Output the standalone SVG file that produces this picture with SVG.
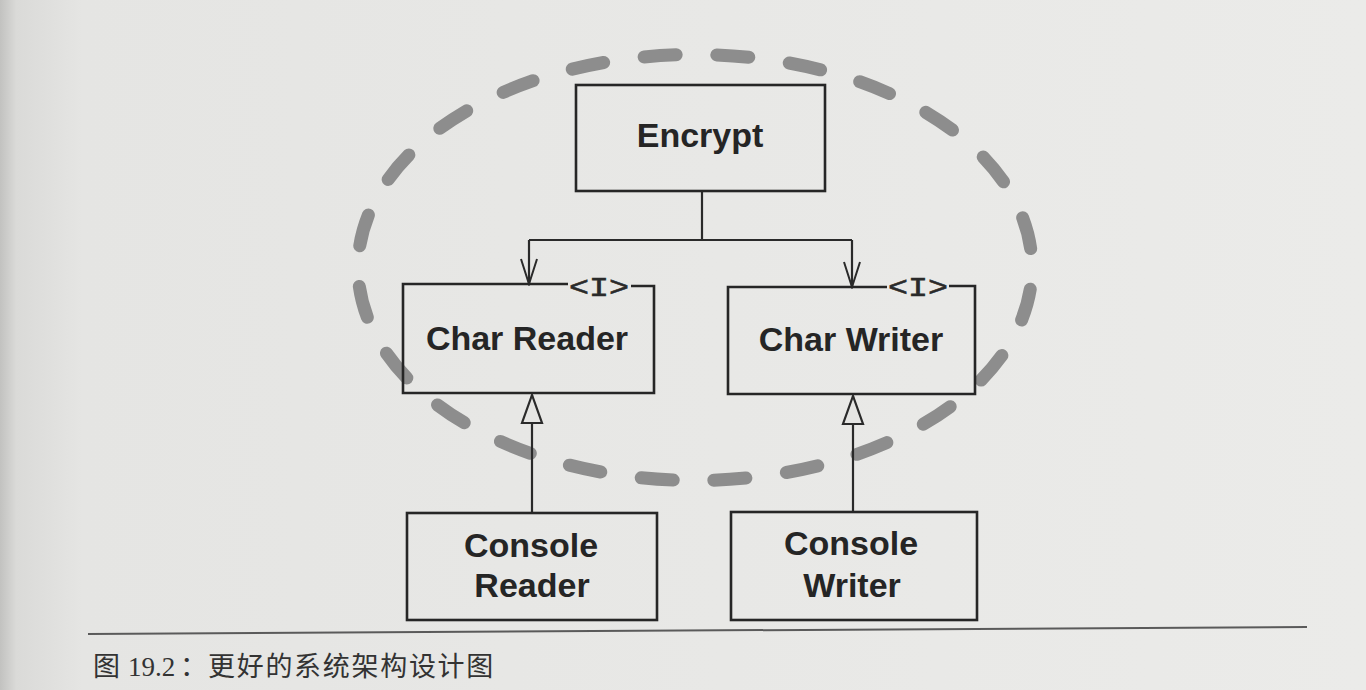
<svg xmlns="http://www.w3.org/2000/svg" width="1366" height="690" viewBox="0 0 1366 690">
  <defs>
    <linearGradient id="page" x1="0" y1="0" x2="1" y2="0">
      <stop offset="0" stop-color="#c2c2c0"/>
      <stop offset="0.012" stop-color="#dadad8"/>
      <stop offset="0.06" stop-color="#e5e5e3"/>
      <stop offset="1" stop-color="#ebebe9"/>
    </linearGradient>
    <marker id="open" viewBox="-27 -10 29 20" refX="0" refY="0" markerWidth="29" markerHeight="20" markerUnits="userSpaceOnUse" orient="auto">
      <path d="M-25,-8 L0,0 L-25,8" fill="none" stroke="#2a2a2a" stroke-width="2"/>
    </marker>
    <marker id="tri" viewBox="-32 -12 34 24" refX="0" refY="0" markerWidth="34" markerHeight="24" markerUnits="userSpaceOnUse" orient="auto">
      <path d="M0,0 L-28,-10 L-28,10 Z" fill="#e5e5e3" stroke="#2a2a2a" stroke-width="2.2" stroke-linejoin="miter"/>
    </marker>
    <style>
      .box { fill: none; stroke: #262626; stroke-width: 2.6; stroke-linejoin: miter; }
      .lbl { font-family: "Liberation Sans", Arial, sans-serif; font-weight: bold; font-size: 34px; fill: #252525; text-anchor: middle; }
      .iface { font-family: "Liberation Mono", "Courier New", monospace; font-size: 28px; fill: #2a2a2a; stroke: #2a2a2a; stroke-width: 0.6; text-anchor: middle; }
      .conn { fill: none; stroke: #2a2a2a; stroke-width: 2.2; }
      .boundary { fill: none; stroke: #8d8d8d; stroke-width: 13; stroke-linecap: round; stroke-dasharray: 44 56; stroke-dashoffset: 70; }
      .caption { font-family: "Liberation Serif", "Noto Sans CJK SC", serif; font-size: 27px; fill: #333333; }
    </style>
  </defs>

  <rect x="0" y="0" width="1366" height="690" fill="url(#page)"/>

  <g id="boundary">
    <path class="boundary" pathLength="2400" d="M1032,267.5 A337,213 0 1,1 358,267.5 A337,213 0 1,1 1032,267.5 Z"/>
  </g>

  <g id="connectors">
    <path class="conn" d="M702,191 V240"/>
    <path class="conn" d="M529,240 H852"/>
    <path class="conn" d="M529,240 V284" marker-end="url(#open)"/>
    <path class="conn" d="M852,240 V287" marker-end="url(#open)"/>
    <path class="conn" d="M532,513 V395" marker-end="url(#tri)"/>
    <path class="conn" d="M853,512 V396" marker-end="url(#tri)"/>
  </g>

  <g id="encrypt">
    <rect class="box" x="576" y="85" width="249" height="106"/>
    <text class="lbl" x="700" y="147">Encrypt</text>
  </g>

  <g id="char-reader">
    <path class="box" d="M568,284 H403 V393 H654 V286 H631"/>
    <text class="iface" x="599" y="296" textLength="60" lengthAdjust="spacingAndGlyphs">&lt;I&gt;</text>
    <text class="lbl" x="527" y="350">Char Reader</text>
  </g>

  <g id="char-writer">
    <path class="box" d="M887,287 H728 V394 H975 V286 H949"/>
    <text class="iface" x="918" y="296" textLength="60" lengthAdjust="spacingAndGlyphs">&lt;I&gt;</text>
    <text class="lbl" x="851" y="351">Char Writer</text>
  </g>

  <g id="console-reader">
    <rect class="box" x="407" y="513" width="250" height="107"/>
    <text class="lbl" x="531" y="557">Console</text>
    <text class="lbl" x="532" y="597">Reader</text>
  </g>

  <g id="console-writer">
    <rect class="box" x="731" y="512" width="246" height="108"/>
    <text class="lbl" x="851" y="555">Console</text>
    <text class="lbl" x="852" y="597">Writer</text>
  </g>

  <g id="caption">
    <line x1="88" y1="634" x2="1307" y2="627" stroke="#5a5a5a" stroke-width="2"/>
    <text class="caption" y="676"><tspan x="93">图</tspan><tspan x="128">19.2</tspan><tspan x="180">：</tspan><tspan x="208" letter-spacing="1.7">更好的系统架构设计图</tspan></text>
  </g>
</svg>
